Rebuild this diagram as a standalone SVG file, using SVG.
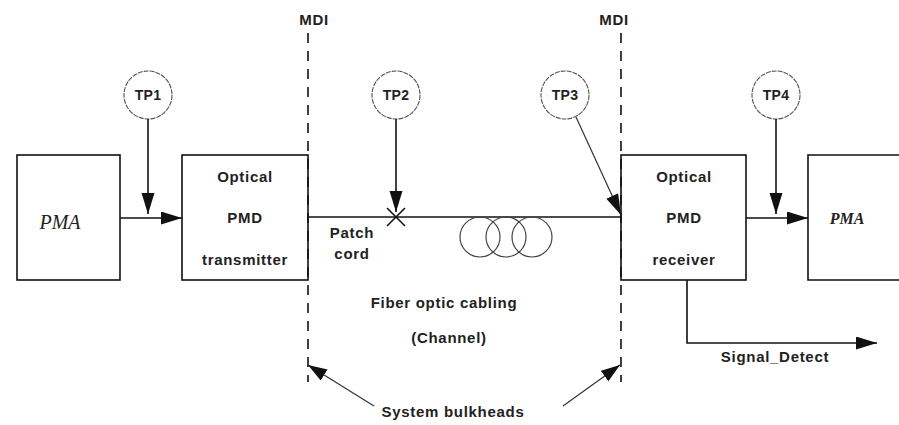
<svg xmlns="http://www.w3.org/2000/svg" width="899" height="425" viewBox="0 0 899 425">
<style>
.box{fill:none;stroke:#111;stroke-width:1.6}
.ln{fill:none;stroke:#111;stroke-width:1.6}
.thin{fill:none;stroke:#333;stroke-width:1.2}
.mdi{fill:none;stroke:#111;stroke-width:1.6;stroke-dasharray:10 8}
.tp{fill:#fff;stroke:#555;stroke-width:1.1;stroke-dasharray:5 1}
.coil{fill:none;stroke:#444;stroke-width:1.2}
text{font-family:"Liberation Sans",Arial,sans-serif;font-weight:bold;font-size:15px;fill:#222;letter-spacing:0.7px;text-anchor:middle}
.tpt{font-size:14px;letter-spacing:0.3px}
.pma1{font-family:"Liberation Serif","Times New Roman",serif;font-style:italic;font-weight:normal;font-size:20px;letter-spacing:0}
.pma2{font-family:"Liberation Serif","Times New Roman",serif;font-style:italic;font-weight:bold;font-size:16px;letter-spacing:0}
</style>
<defs>
<marker id="ah" markerUnits="userSpaceOnUse" markerWidth="22" markerHeight="14" refX="21" refY="6.5" orient="auto">
<path d="M0,0 L21,6.5 L0,13 z" fill="#111"/>
</marker>
<marker id="ah2" markerUnits="userSpaceOnUse" markerWidth="20" markerHeight="14" refX="19" refY="6.5" orient="auto">
<path d="M0,0 L19,6.5 L0,13 z" fill="#111"/>
</marker>
</defs>
<g id="mdi-left">
<line class="mdi" x1="308" y1="33" x2="308" y2="382"/>
<text x="314" y="25">MDI</text>
</g>
<g id="mdi-right">
<line class="mdi" x1="621" y1="33" x2="621" y2="382"/>
<text x="614" y="25">MDI</text>
</g>
<g id="pma-left">
<rect class="box" x="17" y="155" width="103" height="125"/>
<text class="pma1" x="60" y="229">PMA</text>
</g>
<g id="transmitter">
<rect class="box" x="182" y="155" width="126" height="125"/>
<text x="245" y="182">Optical</text>
<text x="245" y="223">PMD</text>
<text x="245" y="265">transmitter</text>
</g>
<g id="receiver">
<rect class="box" x="621" y="155" width="125" height="125"/>
<text x="684" y="182">Optical</text>
<text x="684" y="223">PMD</text>
<text x="684" y="265">receiver</text>
</g>
<g id="pma-right">
<path class="box" d="M910,155 H808 V280 H910"/>
<text class="pma2" x="847" y="224">PMA</text>
</g>
<g id="tp1"><circle class="tp" cx="148" cy="95" r="24"/><text class="tpt" x="148" y="100">TP1</text></g>
<g id="tp2"><circle class="tp" cx="396" cy="95" r="24"/><text class="tpt" x="396" y="100">TP2</text></g>
<g id="tp3"><circle class="tp" cx="565" cy="95" r="24"/><text class="tpt" x="565" y="100">TP3</text></g>
<g id="tp4"><circle class="tp" cx="776" cy="95" r="24"/><text class="tpt" x="776" y="100">TP4</text></g>
<g id="fiber">
<line class="ln" x1="308" y1="217" x2="621" y2="217"/>
<line class="ln" x1="387" y1="208" x2="405" y2="226"/>
<line class="ln" x1="405" y1="208" x2="387" y2="226"/>
<circle class="coil" cx="480" cy="237" r="20"/>
<circle class="coil" cx="506" cy="237" r="20"/>
<circle class="coil" cx="532" cy="237" r="20"/>
</g>
<g id="labels">
<text x="352" y="238">Patch</text>
<text x="352" y="259">cord</text>
<text x="444" y="308">Fiber optic cabling</text>
<text x="449" y="343">(Channel)</text>
<text x="453" y="417">System bulkheads</text>
<text x="775" y="362">Signal_Detect</text>
</g>
<g id="connectors">
<line class="ln" x1="120" y1="218" x2="182" y2="218" marker-end="url(#ah)"/>
<line class="ln" x1="148" y1="119" x2="148" y2="214" marker-end="url(#ah)"/>
<line class="ln" x1="396" y1="119" x2="396" y2="212" marker-end="url(#ah)"/>
<line class="thin" x1="576" y1="117" x2="621" y2="215" marker-end="url(#ah)"/>
<line class="ln" x1="746" y1="218" x2="808" y2="218" marker-end="url(#ah)"/>
<line class="ln" x1="776" y1="119" x2="776" y2="214" marker-end="url(#ah)"/>
<path class="ln" d="M687,280 V343 H877" marker-end="url(#ah)"/>
<line class="thin" x1="374" y1="406" x2="308" y2="365" marker-end="url(#ah2)"/>
<line class="thin" x1="563" y1="406" x2="620" y2="365" marker-end="url(#ah2)"/>
</g>
</svg>
